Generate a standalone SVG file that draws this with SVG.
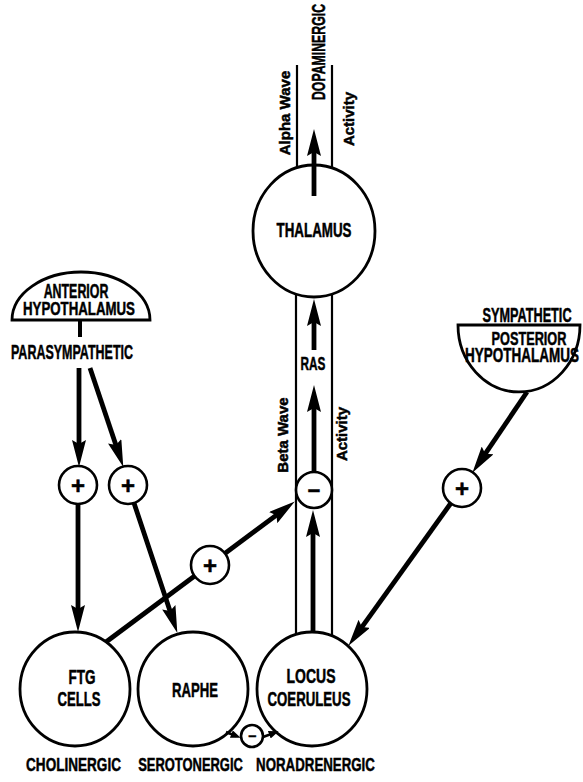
<svg xmlns="http://www.w3.org/2000/svg" width="583" height="782" viewBox="0 0 583 782">
  <style>
    .t { font-family: "Liberation Sans", Arial, sans-serif; font-weight: bold; fill: #000; stroke: #000; stroke-width: 0.5; text-anchor: middle; }
    .node { fill: #fff; stroke: #000; stroke-width: 2.8; }
    .ring { fill: none; stroke: #000; stroke-width: 2.8; }
    .sign { fill: #fff; stroke: #000; stroke-width: 2.6; }
    .arrow { fill: none; stroke: #000; stroke-width: 4.8; marker-end: url(#head); }
    .rail { fill: none; stroke: #000; stroke-width: 2.2; }
    .stub { fill: none; stroke: #000; stroke-width: 2.6; marker-end: url(#tip); }
  </style>
  <defs>
    <marker id="head" markerUnits="userSpaceOnUse" viewBox="0 0 27 14" markerWidth="27" markerHeight="14" refX="12" refY="7" orient="auto">
      <path d="M0,0 L27,7 L0,14 L4,7 Z" fill="#000"/>
    </marker>
    <marker id="tip" markerUnits="userSpaceOnUse" viewBox="0 0 10 8" markerWidth="10" markerHeight="8" refX="5" refY="4" orient="auto">
      <path d="M0,0 L10,4 L0,8 Z" fill="#000"/>
    </marker>
  </defs>

  <!-- large nuclei -->
  <g id="thalamus">
    <ellipse class="ring" cx="314" cy="231" rx="61" ry="66"/>
    <text class="t" transform="translate(314,237) scale(0.668,1)" font-size="20">THALAMUS</text>
  </g>
  <g id="ftg-cells">
    <ellipse class="node" cx="75" cy="689" rx="55" ry="57"/>
    <text class="t" transform="translate(82,684) scale(0.675,1)" font-size="20">FTG</text>
    <text class="t" transform="translate(79,706) scale(0.656,1)" font-size="20">CELLS</text>
  </g>
  <g id="raphe">
    <ellipse class="node" cx="193" cy="689" rx="55" ry="57"/>
    <text class="t" transform="translate(195,697) scale(0.657,1)" font-size="20">RAPHE</text>
  </g>
  <g id="locus-coeruleus">
    <ellipse class="node" cx="312" cy="689" rx="55" ry="57"/>
    <text class="t" transform="translate(311,683) scale(0.7,1)" font-size="20">LOCUS</text>
    <text class="t" transform="translate(309,706) scale(0.661,1)" font-size="20">COERULEUS</text>
  </g>

  <!-- hypothalamic domes -->
  <g id="anterior-hypothalamus">
    <path class="node" d="M12,320 A69,48 0 0 1 150,320 Z"/>
    <text class="t" transform="translate(76,298) scale(0.62,1)" font-size="20">ANTERIOR</text>
    <text class="t" transform="translate(79,315) scale(0.698,1)" font-size="19">HYPOTHALAMUS</text>
    <line x1="80" y1="320" x2="80" y2="337" stroke="#000" stroke-width="4"/>
    <text class="t" transform="translate(72,359) scale(0.595,1)" font-size="21">PARASYMPATHETIC</text>
  </g>
  <g id="posterior-hypothalamus">
    <text class="t" transform="translate(527,322) scale(0.635,1)" font-size="20">SYMPATHETIC</text>
    <path class="node" d="M458,325 A61,67 0 0 0 580,325 Z"/>
    <text class="t" transform="translate(529,345) scale(0.67,1)" font-size="19">POSTERIOR</text>
    <text class="t" transform="translate(522,362) scale(0.675,1)" font-size="20">HYPOTHALAMUS</text>
  </g>

  <!-- pathways -->
  <g id="connectors">
    <!-- ascending tract to cortex -->
    <line class="rail" x1="297" y1="65" x2="297" y2="168"/>
    <line class="rail" x1="332" y1="65" x2="332" y2="168"/>
    <line class="arrow" x1="314" y1="196" x2="314" y2="144"/>
    <!-- reticular activating system column -->
    <line class="rail" x1="296" y1="294" x2="296" y2="635"/>
    <line class="rail" x1="332" y1="294" x2="332" y2="635"/>
    <line class="arrow" x1="314" y1="350" x2="314" y2="314"/>
    <line class="arrow" x1="314" y1="472" x2="314" y2="400"/>
    <line class="arrow" x1="313" y1="633" x2="313" y2="525"/>
    <!-- parasympathetic outputs -->
    <line class="arrow" x1="79" y1="368" x2="79" y2="452"/>
    <line class="arrow" x1="90" y1="368" x2="118.5" y2="452.7"/>
    <line class="arrow" x1="78" y1="504" x2="78" y2="617"/>
    <line class="arrow" x1="134" y1="503" x2="172.6" y2="618.7"/>
    <!-- FTG to RAS -->
    <line class="arrow" x1="106" y1="642" x2="282.8" y2="510.4"/>
    <!-- sympathetic output -->
    <line class="arrow" x1="527" y1="392" x2="480.8" y2="460.4"/>
    <line class="arrow" x1="451" y1="503" x2="357.2" y2="633.6"/>
    <!-- raphe inhibition of locus coeruleus -->
    <line class="stub" x1="226" y1="732" x2="236" y2="736"/>
    <line class="stub" x1="263" y1="737" x2="274" y2="733"/>
  </g>

  <!-- sign junctions -->
  <g id="plus-ftg">
    <circle class="sign" cx="78" cy="485" r="19"/>
    <text class="t" x="78" y="493.5" font-size="24">+</text>
  </g>
  <g id="plus-raphe">
    <circle class="sign" cx="128" cy="485" r="19"/>
    <text class="t" x="128" y="493.5" font-size="24">+</text>
  </g>
  <g id="plus-ras">
    <circle class="sign" cx="210" cy="565" r="19"/>
    <text class="t" x="210" y="573.5" font-size="24">+</text>
  </g>
  <g id="plus-lc">
    <circle class="sign" cx="462" cy="488" r="19"/>
    <text class="t" x="462" y="496.5" font-size="24">+</text>
  </g>
  <g id="minus-ras">
    <circle class="sign" cx="314" cy="490" r="18"/>
    <text class="t" x="314" y="498" font-size="22">−</text>
  </g>
  <g id="minus-lc">
    <circle class="sign" cx="252" cy="736" r="11"/>
    <text class="t" x="252" y="741" font-size="14">−</text>
  </g>

  <!-- vertical labels -->
  <g id="tract-labels">
    <text class="t" transform="translate(325,52) rotate(-90) scale(0.647,1)" font-size="19">DOPAMINERGIC</text>
    <text class="t" transform="translate(290,113) rotate(-90)" font-size="15">Alpha Wave</text>
    <text class="t" transform="translate(354,119) rotate(-90)" font-size="15">Activity</text>
    <text class="t" transform="translate(313,370) scale(0.62,1)" font-size="19">RAS</text>
    <text class="t" transform="translate(288,435) rotate(-90)" font-size="15">Beta Wave</text>
    <text class="t" transform="translate(347,434) rotate(-90)" font-size="15">Activity</text>
  </g>

  <!-- transmitter labels -->
  <g id="transmitters">
    <text class="t" transform="translate(73.5,771) scale(0.714,1)" font-size="19">CHOLINERGIC</text>
    <text class="t" transform="translate(190.5,771) scale(0.681,1)" font-size="19">SEROTONERGIC</text>
    <text class="t" transform="translate(315.5,771) scale(0.7,1)" font-size="19">NORADRENERGIC</text>
  </g>
</svg>
